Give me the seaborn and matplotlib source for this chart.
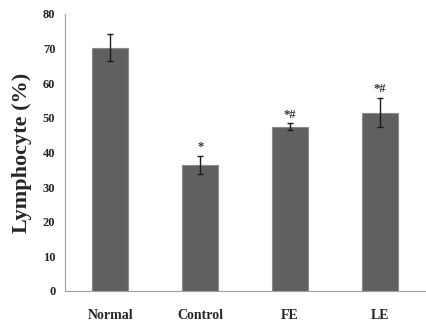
import matplotlib
matplotlib.use("Agg")
import matplotlib.pyplot as plt
import seaborn as sns
import pandas as pd

# === Data ===
groups = ["Normal", "Control", "FE", "LE"]
lymphocyte = [70.3, 36.3, 47.4, 51.5]
errors = [3.8, 2.6, 1.0, 4.2]
marks = ["", "*", "*#", "*#"]

df = pd.DataFrame({"group": groups, "value": lymphocyte})

sns.set_style("white")
plt.rcParams["font.family"] = ["Liberation Serif", "DejaVu Serif"]
plt.rcParams["font.weight"] = "bold"

fig = plt.figure(figsize=(4.26, 3.25), dpi=100)
ax = fig.add_axes([0.153, 0.105, 0.845, 0.852])

sns.barplot(data=df, x="group", y="value", color="#606060", width=0.4,
            saturation=1, edgecolor="#8a8a8a", linewidth=0.8, ax=ax)
ax.errorbar(range(len(groups)), lymphocyte, yerr=errors, fmt="none",
            ecolor="#1a1a1a", elinewidth=1.0, capsize=2.5, capthick=1.0)

for i, (v, e, m) in enumerate(zip(lymphocyte, errors, marks)):
    if m:
        ax.text(i, v + e + 0.8, m, ha="center", va="bottom",
                fontsize=9, fontweight="bold", color="#333333")

ax.set_xlim(-0.5, 3.5)
ax.set_ylim(0, 80)
ax.set_yticks(range(0, 81, 10))
ax.set_xticks([0.5, 1.5, 2.5], minor=True)
ax.tick_params(axis="x", which="major", length=0, pad=13, labelsize=10)
ax.tick_params(axis="x", which="minor", length=4, color="#a0a0a0", width=0.8)
ax.tick_params(axis="y", length=4, color="#a0a0a0", width=0.8, labelsize=9, pad=3)
for lbl in ax.get_xticklabels() + ax.get_yticklabels():
    lbl.set_fontweight("bold")

for side in ["top", "right"]:
    ax.spines[side].set_visible(False)
for side in ["left", "bottom"]:
    ax.spines[side].set_color("#a0a0a0")
    ax.spines[side].set_linewidth(0.8)

ax.set_xlabel("")
ax.set_ylabel("Lymphocyte (%)", fontsize=16, fontweight="bold", labelpad=8)

fig.savefig("out.png", dpi=100)
plt.close(fig)
